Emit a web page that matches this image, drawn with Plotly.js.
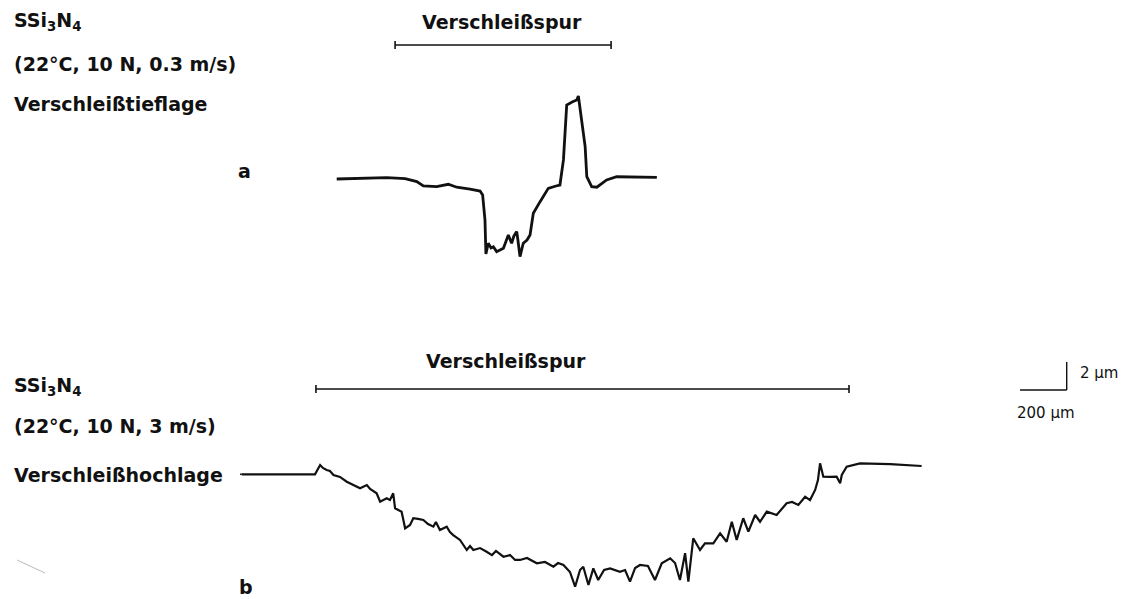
<!DOCTYPE html>
<html><head><meta charset="utf-8">
<script src="https://cdn.plot.ly/plotly-3.0.1.min.js"></script>
<style>html,body{margin:0;padding:0;background:#fff}#chart{width:1129px;height:599px}</style>
</head><body><div id="chart"></div>
<script>
// Profile a: lateral position (µm) and height (µm), low-wear regime
const profileA_x = [1442,1542,1656,1735,1785,1813,1870,1920,1956,2013,2056,2067,2077,2081,2091,2103,2113,2127,2141,2156,2177,2191,2201,2213,2218,2227,2241,2257,2270,2284,2313,2348,2381,2398,2413,2427,2450,2470,2477,2491,2506,2513,2534,2556,2598,2641,2741,2813];
const profileA_z = [-0.07,-0.04,0.02,-0.04,-0.26,-0.57,-0.62,-0.45,-0.66,-0.79,-0.93,-1.21,-3.0,-5.43,-4.66,-5.0,-4.91,-5.26,-5.14,-5.02,-4.07,-4.66,-4.14,-3.83,-4.43,-5.62,-4.66,-4.43,-4.07,-2.52,-1.69,-0.74,-0.57,-0.5,1.29,5.21,5.43,5.57,5.86,3.91,2.24,0.09,-0.62,-0.66,-0.14,0.09,0.04,0.05];

// Profile b: lateral position (µm) and height (µm), high-wear regime
const profileB_x = [1035,1349,1371,1383,1399,1413,1428,1456,1485,1512,1542,1571,1585,1613,1628,1656,1670,1684,1692,1720,1735,1756,1770,1790,1813,1833,1856,1867,1884,1913,1927,1941,1970,1999,2013,2027,2056,2084,2107,2124,2156,2184,2206,2227,2257,2299,2334,2370,2390,2413,2441,2463,2484,2498,2520,2541,2562,2587,2613,2655,2677,2698,2720,2741,2775,2805,2834,2870,2891,2912,2934,2948,2969,2998,3019,3055,3084,3112,3134,3155,3183,3205,3234,3255,3284,3326,3369,3392,3419,3448,3469,3491,3503,3512,3526,3555,3583,3598,3605,3626,3683,3812,3947];
const profileB_z = [-0.02,-0.02,0.64,0.43,0.29,0.21,-0.07,-0.21,-0.55,-0.79,-1.02,-0.79,-1.07,-1.38,-1.98,-1.74,-1.86,-1.38,-2.45,-2.69,-3.88,-3.64,-3.16,-3.21,-3.28,-3.57,-3.76,-3.43,-4.0,-3.76,-4.14,-4.36,-4.71,-5.43,-5.14,-5.43,-5.29,-5.55,-5.79,-5.5,-5.91,-5.79,-6.14,-6.14,-6.0,-6.38,-6.28,-6.62,-6.36,-6.5,-7.0,-8.05,-6.86,-6.62,-7.93,-6.74,-7.57,-6.86,-6.74,-6.98,-6.86,-7.69,-6.71,-6.5,-6.57,-7.57,-6.38,-6.02,-6.36,-7.57,-5.66,-7.69,-4.59,-5.43,-4.95,-4.95,-4.24,-4.84,-3.41,-4.71,-3.16,-4.12,-2.93,-3.41,-2.69,-2.93,-2.09,-2.0,-2.21,-1.62,-1.86,-1.14,-0.43,0.76,-0.19,-0.21,-0.19,-0.66,-0.07,0.52,0.76,0.71,0.57];

// Wear track extents (µm)
const trackA = [1692, 2617];
const trackB = [1353, 3636];

// Scale bar (µm)
const scaleX_um = 200;
const scaleZ_um = 2;

// Text
const labelsA = ['SSi<sub>3</sub>N<sub>4</sub>', '(22°C, 10 N, 0.3 m/s)', 'Verschleißtieflage'];
const labelsB = ['SSi<sub>3</sub>N<sub>4</sub>', '(22°C, 10 N, 3 m/s)', 'Verschleißhochlage'];
const trackLabel = 'Verschleißspur';
const scaleLabels = ['2 µm', '200 µm'];
const panelLabels = ['a', 'b'];

// ---- layout geometry ----
const W = 1129, H = 599;
const KX = 200 / 46.7;   // µm per pixel horizontally
const KZ = 1 / 14;       // µm per pixel vertically
const baseA = 178, baseB = 474;  // baseline pixel rows
const px = v => v / W;
const py = v => 1 - v / H;

const boldFont = {family: 'DejaVu Sans', size: 19, color: '#111', weight: 'bold'};
const normFont = {family: 'DejaVu Sans', size: 15, color: '#111'};

const traces = [
  {x: profileA_x, y: profileA_z, xaxis: 'x', yaxis: 'y', mode: 'lines',
   line: {color: '#111', width: 2.8, shape: 'linear'}, hoverinfo: 'skip'},
  {x: profileB_x, y: profileB_z, xaxis: 'x', yaxis: 'y2', mode: 'lines',
   line: {color: '#111', width: 2.2, shape: 'linear'}, hoverinfo: 'skip'},
  // lead-in line from label to profile b
  {x: [240 * KX, profileB_x[0]], y: [profileB_z[0], profileB_z[0]], xaxis: 'x', yaxis: 'y2', mode: 'lines',
   line: {color: '#111', width: 1.6}, hoverinfo: 'skip'}
];

const annotations = [];
const addText = (text, x, y, font, xanchor) => annotations.push({
  text, x: px(x), y: py(y), xref: 'paper', yref: 'paper', showarrow: false,
  xanchor: xanchor || 'left', yanchor: 'middle', font
});
addText(labelsA[0], 12, 22, boldFont);
addText(labelsA[1], 12, 64, boldFont);
addText(labelsA[2], 12, 104, boldFont);
addText(panelLabels[0], 244, 171, boldFont, 'center');
addText(labelsB[0], 12, 386, boldFont);
addText(labelsB[1], 12, 426, boldFont);
addText(labelsB[2], 12, 475, boldFont);
addText(panelLabels[1], 246, 587, boldFont, 'center');
addText(trackLabel, 502, 22, boldFont, 'center');
addText(trackLabel, 506, 361, boldFont, 'center');
addText(scaleLabels[0], 1078, 373, normFont);
addText(scaleLabels[1], 1015, 413, normFont);

const line = {color: '#111', width: 1.6};
const shapes = [];
const bracket = (track, yref, yPx, base) => {
  const yv = (base - yPx) * KZ;
  const t = 4 * KZ;
  shapes.push({type: 'line', xref: 'x', yref, x0: track[0], x1: track[1], y0: yv, y1: yv, line});
  shapes.push({type: 'line', xref: 'x', yref, x0: track[0], x1: track[0], y0: yv - t, y1: yv + t, line});
  shapes.push({type: 'line', xref: 'x', yref, x0: track[1], x1: track[1], y0: yv - t, y1: yv + t, line});
};
bracket(trackA, 'y', 45, baseA);
bracket(trackB, 'y2', 389, baseB);

// scale bar
const sbx = 1020 * KX, sby = (baseB - 390) * KZ;
shapes.push({type: 'line', xref: 'x', yref: 'y2', x0: sbx, x1: sbx + scaleX_um, y0: sby, y1: sby, line: {color: '#111', width: 1.4}});
shapes.push({type: 'line', xref: 'x', yref: 'y2', x0: sbx + scaleX_um, x1: sbx + scaleX_um, y0: sby, y1: sby + scaleZ_um, line: {color: '#111', width: 1.4}});
// faint scan mark
shapes.push({type: 'line', xref: 'paper', yref: 'paper', x0: px(17), y0: py(560), x1: px(45), y1: py(573), line: {color: '#bbb', width: 1}});

const hidden = {visible: false, showgrid: false, zeroline: false, fixedrange: true};
const layout = {
  width: W, height: H, margin: {l: 0, r: 0, t: 0, b: 0},
  paper_bgcolor: '#fff', plot_bgcolor: '#fff', showlegend: false,
  xaxis: Object.assign({range: [0, W * KX]}, hidden),
  yaxis: Object.assign({range: [-(H - baseA) * KZ, baseA * KZ]}, hidden),
  yaxis2: Object.assign({range: [-(H - baseB) * KZ, baseB * KZ], overlaying: 'y'}, hidden),
  annotations, shapes
};
Plotly.newPlot('chart', traces, layout, {staticPlot: true, displayModeBar: false});
</script></body></html>
